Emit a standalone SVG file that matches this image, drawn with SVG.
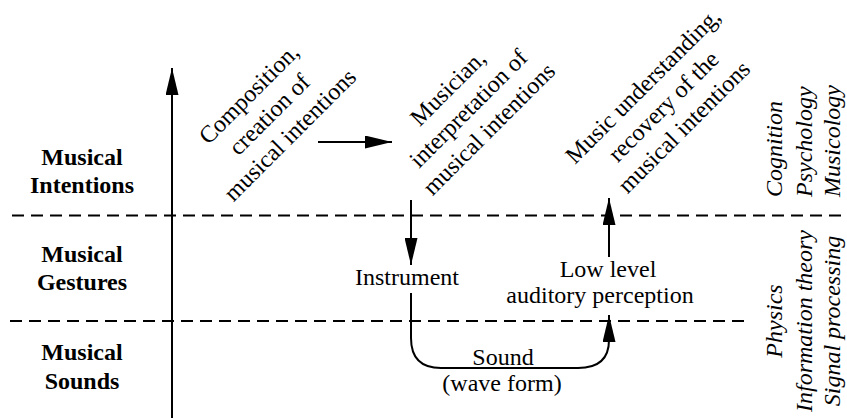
<svg xmlns="http://www.w3.org/2000/svg" width="847" height="418" viewBox="0 0 847 418" font-family="'Liberation Serif', 'DejaVu Serif', 'Times New Roman', serif">
<defs>
<style>
text{font-family:"Liberation Serif","DejaVu Serif","Times New Roman",serif;font-size:24px;fill:#000}
.lbl{font-weight:bold;text-anchor:middle}
.mid{text-anchor:middle}
.it{font-style:italic}
.ln{stroke:#000;stroke-width:2;fill:none}
.dash{stroke:#000;stroke-width:2;stroke-dasharray:12 7;fill:none}
</style>
<marker id="ah" markerUnits="userSpaceOnUse" markerWidth="27" markerHeight="13" refX="27" refY="6.5" orient="auto" viewBox="0 0 27 13">
<path d="M0,0 L27,6.5 L0,13 Z" fill="#000"/>
</marker>
</defs>
<rect width="847" height="418" fill="#fff"/>

<g id="levels">
<text class="lbl" x="82" y="165">Musical</text>
<text class="lbl" x="82" y="193">Intentions</text>
<text class="lbl" x="82" y="262">Musical</text>
<text class="lbl" x="82" y="290">Gestures</text>
<text class="lbl" x="82" y="360">Musical</text>
<text class="lbl" x="82" y="389">Sounds</text>
</g>

<g id="separators">
<line class="dash" x1="12" y1="215.5" x2="847" y2="215.5"/>
<line class="dash" x1="10" y1="321" x2="745" y2="321"/>
</g>

<g id="composition">
<text class="mid" transform="translate(275,120) rotate(-45)"><tspan x="0" y="-29">Composition,</tspan><tspan x="0" y="0">creation of</tspan><tspan x="0" y="29">musical intentions</tspan></text>
</g>
<g id="musician">
<text class="mid" transform="translate(474,114) rotate(-45)"><tspan x="0" y="-29">Musician,</tspan><tspan x="0" y="0">interpretation of</tspan><tspan x="0" y="29">musical intentions</tspan></text>
</g>
<g id="understanding">
<text class="mid" transform="translate(669,112) rotate(-45)"><tspan x="0" y="-29">Music understanding,</tspan><tspan x="0" y="0">recovery of the</tspan><tspan x="0" y="29">musical intentions</tspan></text>
</g>
<g id="instrument">
<text class="mid" x="407" y="285">Instrument</text>
</g>
<g id="perception">
<text class="mid" x="608" y="277">Low level</text>
<text class="mid" x="600" y="303">auditory perception</text>
</g>
<g id="sound">
<text class="mid" x="503" y="365">Sound</text>
<text class="mid" x="502" y="391">(wave form)</text>
</g>

<g id="disciplines-top">
<text class="it" transform="translate(782,197) rotate(-90)">Cognition</text>
<text class="it" transform="translate(812,197) rotate(-90)">Psychology</text>
<text class="it" transform="translate(840,197) rotate(-90)">Musicology</text>
</g>
<g id="disciplines-bottom">
<text class="it mid" transform="translate(782,321) rotate(-90)">Physics</text>
<text class="it mid" transform="translate(812,321) rotate(-90)">Information theory</text>
<text class="it mid" transform="translate(840,321) rotate(-90)">Signal processing</text>
</g>

<g id="connectors">
<line class="ln" x1="172" y1="418" x2="172" y2="68" stroke-width="2.5" marker-end="url(#ah)"/>
<line class="ln" x1="318" y1="142" x2="392" y2="142" marker-end="url(#ah)"/>
<line class="ln" x1="411" y1="200" x2="411" y2="265" marker-end="url(#ah)"/>
<path class="ln" d="M411,293 V338 Q411,368 441,368 H578 Q609,368 609,340 V315" marker-end="url(#ah)"/>
<line class="ln" x1="609" y1="257" x2="609" y2="198" marker-end="url(#ah)"/>
</g>
</svg>
